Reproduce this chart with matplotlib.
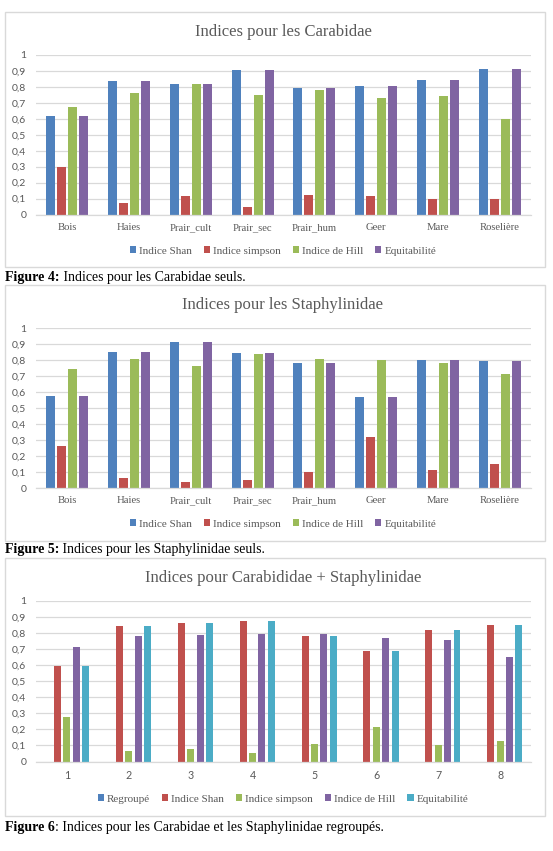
import numpy as np
import matplotlib
matplotlib.use("Agg")
import matplotlib.pyplot as plt
from matplotlib.patches import Rectangle

# Data
sites = ["Bois", "Haies", "Prair_cult", "Prair_sec", "Prair_hum", "Geer", "Mare", "Roselière"]

carab_shan = [0.62, 0.84, 0.82, 0.905, 0.79, 0.805, 0.845, 0.915]
carab_simpson = [0.295, 0.07, 0.115, 0.045, 0.12, 0.115, 0.095, 0.10]
carab_hill = [0.675, 0.76, 0.82, 0.75, 0.78, 0.73, 0.74, 0.60]
carab_equit = [0.62, 0.84, 0.82, 0.905, 0.79, 0.805, 0.845, 0.915]

staph_shan = [0.575, 0.85, 0.915, 0.845, 0.78, 0.57, 0.80, 0.795]
staph_simpson = [0.265, 0.06, 0.04, 0.05, 0.10, 0.32, 0.11, 0.15]
staph_hill = [0.745, 0.805, 0.765, 0.84, 0.805, 0.80, 0.78, 0.715]
staph_equit = [0.575, 0.85, 0.915, 0.845, 0.78, 0.57, 0.80, 0.795]

groups = ["1", "2", "3", "4", "5", "6", "7", "8"]
regroupe = [0, 0, 0, 0, 0, 0, 0, 0]
all_shan = [0.595, 0.845, 0.865, 0.875, 0.78, 0.69, 0.82, 0.85]
all_simpson = [0.275, 0.065, 0.08, 0.05, 0.11, 0.215, 0.105, 0.13]
all_hill = [0.715, 0.78, 0.79, 0.795, 0.795, 0.77, 0.755, 0.65]
all_equit = [0.595, 0.845, 0.865, 0.875, 0.78, 0.69, 0.82, 0.85]

names4 = ["Indice Shan", "Indice simpson", "Indice de Hill", "Equitabilité"]
names5 = ["Regroupé", "Indice Shan", "Indice simpson", "Indice de Hill", "Equitabilité"]

BLUE, RED, GREEN, PURPLE, AQUA = "#4F81BD", "#C0504D", "#9BBB59", "#8064A2", "#4BACC6"
GRID = "#D9D9D9"
GREY_TXT = "#595959"
SERIF = "Liberation Serif"
SANS = "Lato"

W, H = 553, 851
fig = plt.figure(figsize=(W / 100, H / 100), dpi=100)


def px_axes(x0, y0, x1, y1):
    # pixel box (top-left origin) -> figure axes
    return fig.add_axes([x0 / W, 1 - y1 / H, (x1 - x0) / W, (y1 - y0) / H])


def panel(box, plot, title, title_y, cats, series, names, colors, width, step,
          legend_y, cat_font):
    bx0, by0, bx1, by1 = box
    fig.patches.append(Rectangle((bx0 / W, 1 - by1 / H), (bx1 - bx0) / W, (by1 - by0) / H,
                                 transform=fig.transFigure, fill=False,
                                 edgecolor=GRID, lw=1.0))
    fig.text(283 / W, 1 - title_y / H, title, ha="center", va="center",
             fontsize=12, family=SERIF, color=GREY_TXT)

    ax = px_axes(*plot)
    x = np.arange(len(cats))
    n = len(series)
    handles = []
    for i, (vals, c) in enumerate(zip(series, colors)):
        h = ax.bar(x + (i - (n - 1) / 2) * step, vals, width=width, color=c, lw=0)
        handles.append(h)

    ax.set_xlim(-0.5, len(cats) - 0.5)
    ax.set_ylim(0, 1)
    ticks = np.round(np.arange(0, 1.01, 0.1), 1)
    ax.set_yticks(ticks)
    ax.set_yticklabels(["0" if t == 0 else ("1" if t == 1 else f"{t:.1f}".replace(".", ",")) for t in ticks],
                       family=SANS, fontsize=7.5, color=GREY_TXT)
    ax.set_xticks(x)
    ax.set_xticklabels(cats, family=cat_font, fontsize=7.7, color=GREY_TXT)
    ax.tick_params(axis="both", length=0)
    ax.tick_params(axis="y", pad=7)
    ax.tick_params(axis="x", pad=6)
    ax.yaxis.grid(True, color=GRID, lw=0.9)
    ax.set_axisbelow(True)
    for s in ["left", "right", "top"]:
        ax.spines[s].set_visible(False)
    ax.spines["bottom"].set_color(GRID)
    ax.spines["bottom"].set_linewidth(0.9)

    fig.legend(handles, names, loc="center", bbox_to_anchor=(283 / W, 1 - legend_y / H),
               ncol=n, frameon=False, prop={"family": SERIF, "size": 8},
               handlelength=0.55, handleheight=0.55, handletextpad=0.25,
               columnspacing=1.1, labelcolor=GREY_TXT)
    return ax


panel((5, 12, 545, 267), (36, 55, 531, 214.5), "Indices pour les Carabidae", 32, sites,
      [carab_shan, carab_simpson, carab_hill, carab_equit], names4,
      [BLUE, RED, GREEN, PURPLE], 0.145, 0.178, 251, SERIF)

panel((5, 285, 545, 541), (36, 328, 531, 488), "Indices pour les Staphylinidae", 305, sites,
      [staph_shan, staph_simpson, staph_hill, staph_equit], names4,
      [BLUE, RED, GREEN, PURPLE], 0.145, 0.178, 524, SERIF)

panel((5, 558, 545, 816), (36, 601, 531, 761.5), "Indices pour Carabididae + Staphylinidae", 578,
      groups, [regroupe, all_shan, all_simpson, all_hill, all_equit], names5,
      [BLUE, RED, GREEN, PURPLE, AQUA], 0.113, 0.152, 799, SANS)

# Captions: bold "Figure N" followed by normal text
captions = [("Figure 4:", " Indices pour les Carabidae seuls.", 277),
            ("Figure 5:", " Indices pour les Staphylinidae seuls.", 550),
            ("Figure 6", ": Indices pour les Carabidae et les Staphylinidae regroupés.", 827)]
fig.canvas.draw()
renderer = fig.canvas.get_renderer()
for bold, rest, yy in captions:
    t = fig.text(5 / W, 1 - yy / H, bold, ha="left", va="center", fontsize=10,
                 family=SERIF, weight="bold", color="black")
    bb = t.get_window_extent(renderer=renderer)
    fig.text(bb.x1 / W, 1 - yy / H, rest, ha="left", va="center", fontsize=10,
             family=SERIF, color="black")

fig.savefig("out.png", dpi=100, facecolor="white")
